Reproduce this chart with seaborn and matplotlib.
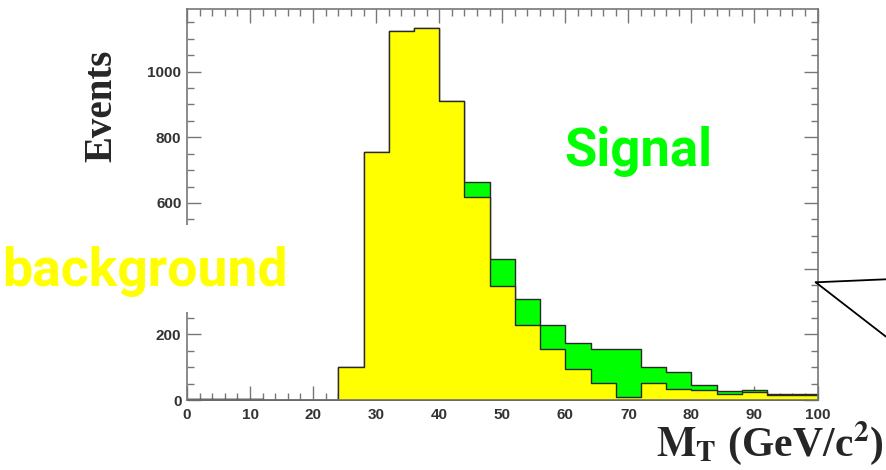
import numpy as np
import pandas as pd
import matplotlib
matplotlib.use("Agg")
import matplotlib.pyplot as plt
from matplotlib.lines import Line2D
from matplotlib.patches import Rectangle
from matplotlib.ticker import MultipleLocator
import seaborn as sns

# Transverse mass histogram, 4 GeV bins from 0 to 100
bin_edges = list(range(0, 101, 4))
background = [2, 2, 2, 0, 0, 0, 100, 755, 1125, 1132, 910, 617, 348,
              227, 156, 94, 53, 10, 53, 35, 30, 18, 25, 15, 15]
signal = [0, 0, 0, 0, 0, 0, 0, 0, 0, 0, 0, 47, 81,
          82, 72, 81, 103, 146, 47, 49, 16, 10, 5, 3, 3]

x_ticks = [0, 10, 20, 30, 40, 50, 60, 70, 80, 90, 100]
y_ticks = [0, 200, 400, 600, 800, 1000]

centers = [(a + b) / 2 for a, b in zip(bin_edges[:-1], bin_edges[1:])]
df = pd.DataFrame({
    "mt": centers,
    "background": background,
    "total": [b + s for b, s in zip(background, signal)],
})

sns.set_style("ticks")
plt.rcParams["mathtext.fontset"] = "stix"

W, H = 886, 470
fig = plt.figure(figsize=(W / 100, H / 100), dpi=100)
ax = fig.add_axes([187 / W, 1 - 400 / H, (817.5 - 187) / W, (400 - 8.5) / H])

edge = "#2a2a2a"
# signal stacked on background: draw the total first, background on top
sns.histplot(data=df, x="mt", weights="total", bins=bin_edges, element="step",
             fill=True, color="#00ff00", alpha=1, edgecolor=edge, linewidth=1.0,
             ax=ax)
sns.histplot(data=df, x="mt", weights="background", bins=bin_edges,
             element="step", fill=True, color="#ffff00", alpha=1,
             edgecolor=edge, linewidth=1.0, ax=ax)

ax.set_xlim(0, 100)
ax.set_ylim(0, 1192)
ax.set_xlabel("")
ax.set_ylabel("")
ax.set_xticks(x_ticks)
ax.set_yticks(y_ticks)
ax.xaxis.set_minor_locator(MultipleLocator(2))
ax.yaxis.set_minor_locator(MultipleLocator(50))
frame = "#777777"
for sp in ax.spines.values():
    sp.set_color(frame)
    sp.set_linewidth(1.2)
    sp.set_visible(True)
ax.tick_params(which="both", direction="in", top=True, right=True,
               color=frame, width=1.0)
ax.tick_params(which="major", length=10)
ax.tick_params(which="minor", length=5)
ax.tick_params(axis="x", which="major", pad=6, labelsize=11,
               labelcolor="#333333")
ax.tick_params(axis="y", which="major", pad=4, labelsize=11,
               labelcolor="#333333")
for lab in ax.get_xticklabels() + ax.get_yticklabels():
    lab.set_fontweight("bold")
    lab.set_fontfamily("Liberation Sans")

# axis titles
fig.text(102 / W, 1 - 106 / H, "Events", rotation=90, ha="center",
         va="center", family="Liberation Serif", weight="bold", fontsize=28)
fig.text(884 / W, 1 - 456 / H, r"$\mathbf{M}_{\mathbf{T}}$ (GeV/c$^{\mathbf{2}}$)",
         ha="right", va="baseline", family="Liberation Serif", weight="bold",
         fontsize=30)

# labels of the two components
fig.text(638 / W, 1 - 166 / H, "Signal", ha="center", va="baseline",
         family="Roboto", weight="bold", fontsize=38, color="#00ff00")
fig.add_artist(Rectangle((0, 1 - 312 / H), 300 / W, 87 / H,
                         transform=fig.transFigure, facecolor="white",
                         edgecolor="none", zorder=3))
fig.text(2 / W, 1 - 286 / H, "background", ha="left", va="baseline",
         family="Roboto", weight="bold", fontsize=38.5, color="#ffff00",
         zorder=4)

# callout lines leaving the right edge of the frame
vx, vy = 815.7 / W, 1 - 282.3 / H
fig.add_artist(Line2D([vx, 1.0], [vy, 1 - 279.3 / H], color="black", lw=1.3,
                      transform=fig.transFigure))
fig.add_artist(Line2D([vx, 1.0], [vy, 1 - 336.7 / H], color="black", lw=1.3,
                      transform=fig.transFigure))

fig.savefig("out.png", dpi=100, facecolor="white")
